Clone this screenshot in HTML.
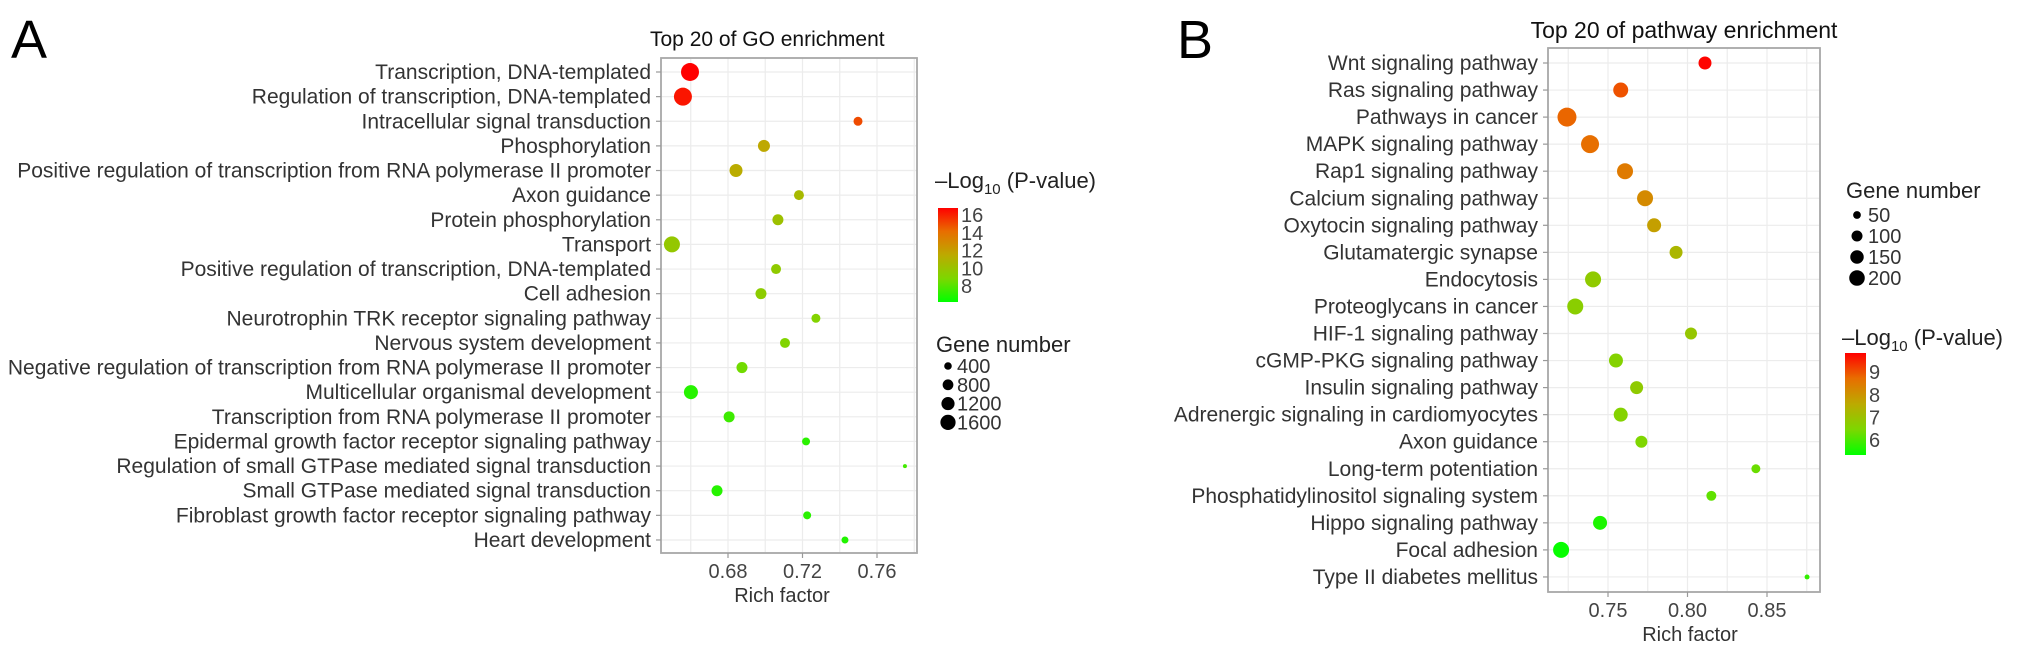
<!DOCTYPE html>
<html><head><meta charset="utf-8">
<style>
html,body{margin:0;padding:0;background:#fff;}
svg{display:block;font-family:"Liberation Sans",Arial,sans-serif;}
</style></head>
<body>
<svg id="fig" width="2032" height="651" viewBox="0 0 2032 651">
<rect width="2032" height="651" fill="#fff"/>
</svg>
<script>
// ---------- Panel A data ----------
const goTerms = ["Transcription, DNA-templated","Regulation of transcription, DNA-templated","Intracellular signal transduction","Phosphorylation","Positive regulation of transcription from RNA polymerase II promoter","Axon guidance","Protein phosphorylation","Transport","Positive regulation of transcription, DNA-templated","Cell adhesion","Neurotrophin TRK receptor signaling pathway","Nervous system development","Negative regulation of transcription from RNA polymerase II promoter","Multicellular organismal development","Transcription from RNA polymerase II promoter","Epidermal growth factor receptor signaling pathway","Regulation of small GTPase mediated signal  transduction","Small GTPase mediated signal  transduction","Fibroblast growth factor receptor signaling pathway","Heart development"];
const goRich = [0.6596,0.6558,0.7498,0.6993,0.6843,0.7181,0.7068,0.6499,0.7058,0.6977,0.7272,0.7106,0.6875,0.6601,0.6806,0.7219,0.775,0.6741,0.7225,0.7428];
const goGenes = [2240,2240,560,1000,1170,690,840,1770,690,840,560,690,840,1360,840,440,110,840,440,340];
const goLogP = [16.8,16.3,15.0,11.6,11.4,10.6,10.2,9.8,9.6,9.5,9.1,9.0,8.6,7.0,7.5,7.1,7.6,7.0,7.1,6.9];
const goTicks = [0.68,0.72,0.76];
const goSizeBreaks = [400,800,1200,1600];
const goColorBreaks = [8,10,12,14,16];

// ---------- Panel B data ----------
const kgTerms = ["Wnt signaling pathway","Ras signaling pathway","Pathways in cancer","MAPK signaling pathway","Rap1 signaling pathway","Calcium signaling pathway","Oxytocin signaling pathway","Glutamatergic synapse","Endocytosis","Proteoglycans in cancer","HIF-1 signaling pathway","cGMP-PKG signaling pathway","Insulin signaling pathway","Adrenergic signaling in cardiomyocytes","Axon guidance","Long-term potentiation","Phosphatidylinositol signaling system","Hippo signaling pathway","Focal adhesion","Type II diabetes mellitus"];
const kgRich = [0.811,0.758,0.7242,0.7387,0.7607,0.7733,0.779,0.7928,0.7406,0.7294,0.8022,0.755,0.768,0.758,0.771,0.843,0.815,0.745,0.7205,0.8752];
const kgGenes = [117,156,250,225,178,178,136,117,178,178,100,136,117,136,100,56,69,136,178,17];
const kgLogP = [9.8,9.0,8.8,8.7,8.5,8.2,7.8,7.3,6.8,6.7,6.9,6.6,6.8,6.6,6.5,6.3,6.2,5.6,5.4,5.8];
const kgTicks = [0.75,0.80,0.85];
const kgSizeBreaks = [50,100,150,200];
const kgColorBreaks = [6,7,8,9];

const NS = "http://www.w3.org/2000/svg";
const svg = document.getElementById('fig');
function mk(tag, attrs, parent, text){
  const e = document.createElementNS(NS, tag);
  for (const k in attrs) e.setAttribute(k, attrs[k]);
  if (text !== undefined) e.textContent = text;
  (parent || svg).appendChild(e);
  return e;
}
const stops = [[0,[0,255,0]],[0.25,[125,215,0]],[0.5,[188,170,0]],[0.75,[232,110,0]],[1,[255,0,0]]];
function colorAt(t){
  t = Math.max(0, Math.min(1, t));
  for (let i=1;i<stops.length;i++){
    if (t <= stops[i][0]){
      const a = stops[i-1], b = stops[i];
      const f = (t - a[0])/(b[0]-a[0]);
      const c = a[1].map((v,j)=>Math.round(v + (b[1][j]-v)*f));
      return `rgb(${c[0]},${c[1]},${c[2]})`;
    }
  }
  return 'rgb(255,0,0)';
}

function panel(cfg){
  const g = mk('g', {});
  
  
  const xs = v => cfg.x0 + (v - cfg.v0) * cfg.pxPerUnit;
  const ys = i => cfg.row1 + i * cfg.rowStep;
  const L = mk('text', {x: cfg.letterX, y: 58, 'font-size': 54, fill: '#000'}, g, cfg.letter);
  
  
  const T = mk('text', {x: cfg.titleX, y: cfg.titleY, 'font-size': cfg.titleSize, 'text-anchor': cfg.titleAnchor, fill: '#111'}, g, cfg.title);
  
  
  const grid = mk('g', {}, g);
  
  
  const step = cfg.ticks[1] - cfg.ticks[0];
  for (let v = cfg.ticks[0] - step*3; v <= cfg.ticks[cfg.ticks.length-1] + step*3; v += step/2){
    const x = xs(v);
    if (x <= cfg.left || x >= cfg.right) continue;
    mk('line', {x1:x, x2:x, y1:cfg.top, y2:cfg.bottom, stroke:'#ececec', 'stroke-width':1.2}, grid);
  }
  cfg.terms.forEach((t,i)=>{
    mk('line', {x1:cfg.left, x2:cfg.right, y1:ys(i), y2:ys(i), stroke:'#ececec', 'stroke-width':1.2}, grid);
  });
  const B = mk('rect', {x:cfg.left, y:cfg.top, width:cfg.right-cfg.left, height:cfg.bottom-cfg.top, fill:'none', stroke:'#a8a8a8', 'stroke-width':1.8}, g);
  
  
  cfg.terms.forEach((t,i)=>{
    const y = ys(i);
    mk('line', {x1:cfg.left-5, x2:cfg.left, y1:y, y2:y, stroke:'#999', 'stroke-width':1.2}, g);
    const lab = mk('text', {x: cfg.left-10, y: y+7, 'font-size': cfg.labelSize, 'text-anchor':'end', fill:'#333'}, g, t);
    
    
  });
  cfg.ticks.forEach(v=>{
    const x = xs(v);
    mk('line', {x1:x, x2:x, y1:cfg.bottom, y2:cfg.bottom+5, stroke:'#999', 'stroke-width':1.2}, g);
    const lab = mk('text', {x:x, y:cfg.bottom+25, 'font-size':20, 'text-anchor':'middle', fill:'#444'}, g, v.toFixed(2));
    
    
  });
  const XT = mk('text', {x: cfg.xTitleX, y: cfg.bottom+49, 'font-size':20, 'text-anchor':'middle', fill:'#333'}, g, 'Rich factor');
  
  
  const pts = mk('g', {}, g);
  
  
  cfg.rich.forEach((v,i)=>{
    const c = mk('circle', {cx: xs(v), cy: ys(i), r: cfg.rk*Math.sqrt(cfg.genes[i]), fill: colorAt((cfg.logp[i]-cfg.c0)/(cfg.c1-cfg.c0))}, pts);
    
    
  });
  return {g, xs, ys};
}

function colorLegend(g, cfg){
  const lg = mk('g', {}, g);
  
  
  const t = mk('text', {x: cfg.lx, y: cfg.ly, 'font-size': 22, fill:'#222'}, lg);
  
  
  mk('tspan', {}, t, '\u2013Log');
  mk('tspan', {'font-size': 15, dy: 6}, t, '10');
  mk('tspan', {dy: -6}, t, ' (P-value)');
  const gid = 'grad' + cfg.id;
  const defs = mk('defs', {}, lg);
  const grad = mk('linearGradient', {id: gid, x1:0, y1:1, x2:0, y2:0}, defs);
  stops.forEach(s=> mk('stop', {offset: s[0], 'stop-color': colorAt(s[0])}, grad));
  const bar = mk('rect', {x: cfg.bx, y: cfg.by0, width: cfg.bw, height: cfg.by1-cfg.by0, fill: `url(#${gid})`}, lg);
  
  
  const yv = v => cfg.by1 - (v - cfg.c0)/(cfg.c1-cfg.c0)*(cfg.by1-cfg.by0);
  cfg.breaks.forEach(v=>{
    const l = mk('text', {x: cfg.bx+cfg.bw+3, y: yv(v)+7, 'font-size': 20, fill:'#444'}, lg, String(v));
    
    
  });
}
function sizeLegend(g, cfg){
  const lg = mk('g', {}, g);
  
  
  const t = mk('text', {x: cfg.lx, y: cfg.ly, 'font-size': 22, fill:'#222'}, lg, 'Gene number');
  
  
  cfg.breaks.forEach((b,i)=>{
    const y = cfg.y0 + i*cfg.step;
    const c = mk('circle', {cx: cfg.dx, cy: y, r: cfg.rk*Math.sqrt(b), fill:'#000'}, lg);
    
    
    const l = mk('text', {x: cfg.tx, y: y+7, 'font-size': 20, fill:'#333'}, lg, String(b));
    
    
  });
}

const A = panel({name:'panel-a-go', letter:'A', letterX:11, title:'Top 20 of GO enrichment', titleX:650, titleAnchor:'start', titleSize:21, titleY:46,
  left:661, right:917, top:58, bottom:553, row1:72, rowStep:24.63,
  x0:728, v0:0.68, pxPerUnit:1862.5, ticks:goTicks, xTitleX:782,
  terms:goTerms, rich:goRich, genes:goGenes, logp:goLogP, rk:0.19, c0:6.2, c1:16.8, labelSize:21});
colorLegend(A.g, {id:'A', lx:935, ly:188, bx:938, bw:20, by0:208, by1:302, c0:6.2, c1:16.8, breaks:goColorBreaks});
sizeLegend(A.g, {lx:936, ly:352, breaks:goSizeBreaks, y0:366, step:18.8, dx:948, tx:957, rk:0.19});

const Bp = panel({name:'panel-b-pathway', letter:'B', letterX:1177, title:'Top 20 of pathway enrichment', titleX:1684, titleAnchor:'middle', titleSize:23, titleY:38,
  left:1548, right:1820, top:48, bottom:592, row1:63, rowStep:27.05,
  x0:1608, v0:0.75, pxPerUnit:1590, ticks:kgTicks, xTitleX:1690,
  terms:kgTerms, rich:kgRich, genes:kgGenes, logp:kgLogP, rk:0.6, c0:5.35, c1:9.84, labelSize:21});
sizeLegend(Bp.g, {lx:1846, ly:198, breaks:kgSizeBreaks, y0:215, step:21, dx:1857, tx:1868, rk:0.55});
colorLegend(Bp.g, {id:'B', lx:1842, ly:345, bx:1845, bw:21, by0:353, by1:455, c0:5.35, c1:9.84, breaks:kgColorBreaks});
</script>
</body></html>
